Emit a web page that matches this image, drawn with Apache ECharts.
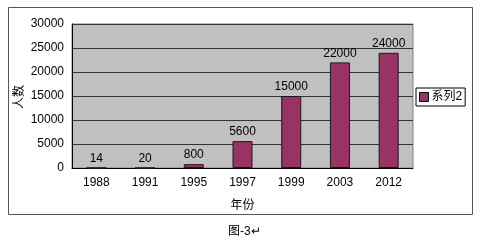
<!DOCTYPE html>
<html><head><meta charset="utf-8">
<script src="https://cdn.jsdelivr.net/npm/echarts@6/dist/echarts.min.js"></script>
<style>html,body{margin:0;padding:0;background:#fff}#c{width:493px;height:246px}</style>
</head><body><div id="c"></div>
<script>
const categories = ['1988','1991','1995','1997','1999','2003','2012'];
const values = [14, 20, 800, 5600, 15000, 22000, 24000];
const seriesName = '系列2';
const yTicks = { min: 0, max: 30000, interval: 5000 };
const xTitle = '年份';
const yTitle = '人数';
const caption = '图-3↵';

const font = 'Arial, "Liberation Sans", "Noto Sans CJK SC", sans-serif';
const chart = echarts.init(document.getElementById('c'), null, {renderer: 'canvas'});
chart.setOption({
  animation: false,
  backgroundColor: '#fff',
  grid: { left: 72, top: 24, width: 341, height: 144, show: true,
          backgroundColor: '#c0c0c0', borderColor: '#808080', borderWidth: 1 },
  legend: {
    data: [seriesName], left: 416, top: 88, orient: 'vertical',
    itemWidth: 9, itemHeight: 9, itemGap: 4, padding: [3, 3],
    borderColor: '#000', borderWidth: 1,
    icon: 'rect',
    textStyle: { fontSize: 12, color: '#000', fontFamily: font, padding: [0,0,0,-2] },
    itemStyle: { borderColor: '#000', borderWidth: 1 }
  },
  xAxis: {
    type: 'category', data: categories,
    name: xTitle, nameLocation: 'middle', nameGap: 32,
    nameTextStyle: { fontSize: 12, color: '#000', fontFamily: font },
    axisLine: { lineStyle: { color: '#000', width: 1 } },
    axisTick: { inside: true, length: 3, lineStyle: { color: '#000' } },
    axisLabel: { fontSize: 12, color: '#000', fontFamily: font, margin: 9 }
  },
  yAxis: {
    type: 'value', min: yTicks.min, max: yTicks.max, interval: yTicks.interval,
    axisLine: { show: true, lineStyle: { color: '#000', width: 1 } },
    axisTick: { show: false },
    axisLabel: { fontSize: 12, color: '#000', fontFamily: font, margin: 8,
                 formatter: v => String(v) },
    splitLine: { lineStyle: { color: '#333', width: 1 } }
  },
  series: [{
    name: seriesName, type: 'bar', data: values, barWidth: 20,
    itemStyle: { color: '#993366', borderColor: '#1a1a1a', borderWidth: 1 },
    label: { show: true, position: 'top', distance: 3, fontSize: 12, color: '#000', fontFamily: font }
  }],
  graphic: [
    { type: 'rect', shape: { x: 8.5, y: 7.5, width: 464, height: 207 },
      style: { fill: 'none', stroke: '#555', lineWidth: 1 }, z: -1, silent: true },
    { type: 'text', x: 20, y: 97, rotation: Math.PI / 2,
      style: { text: yTitle, fontSize: 12, fill: '#000', fontFamily: font,
               align: 'center', verticalAlign: 'middle' } },
    { type: 'text', left: 228, top: 226,
      style: { text: caption, fontSize: 12, fill: '#000', fontFamily: font } }
  ]
});
</script></body></html>
